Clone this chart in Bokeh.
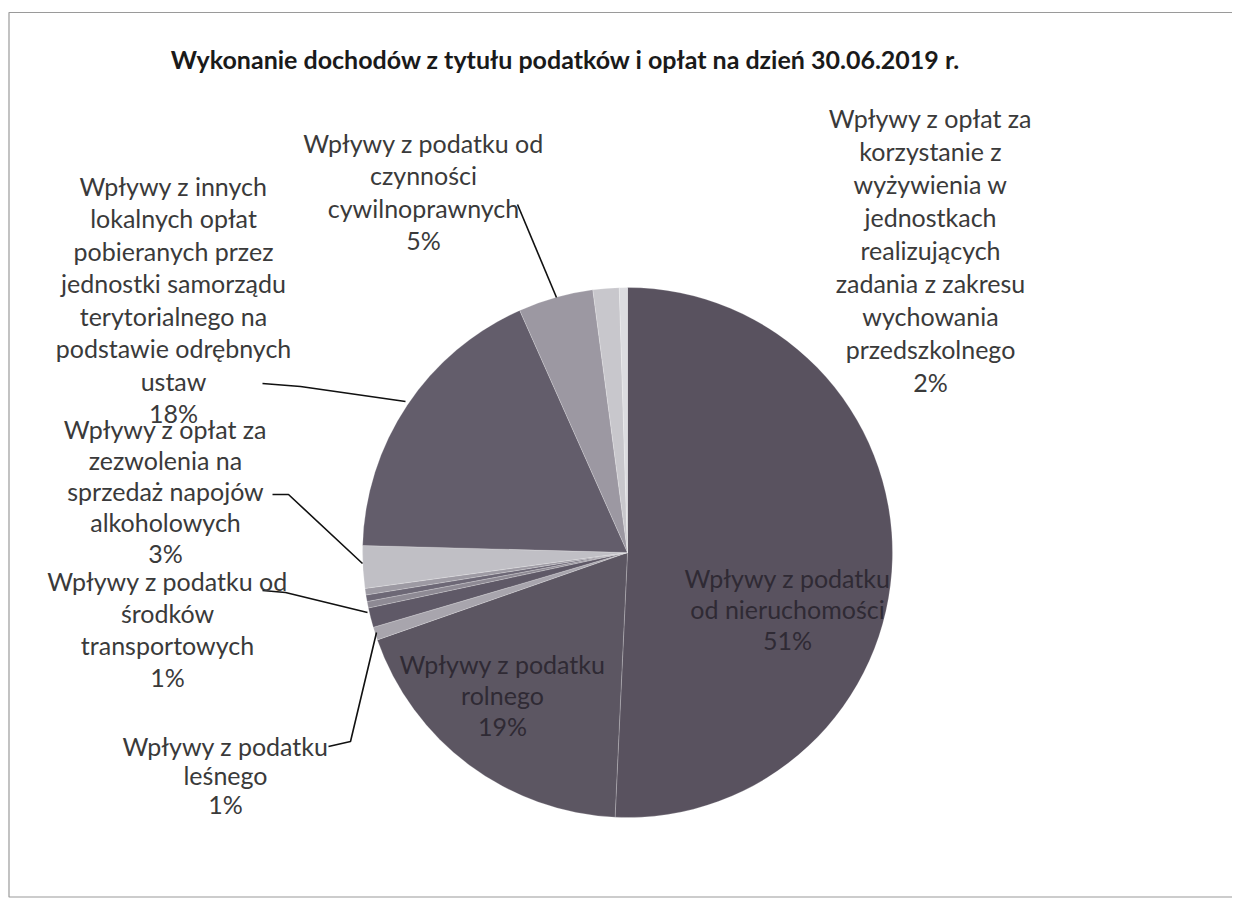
import math
from bokeh.plotting import figure
from bokeh.models import Range1d
from bokeh.embed import file_html
from bokeh.resources import INLINE
from bokeh.core.properties import value

# ---------------- data ----------------
title = "Wykonanie dochodów z tytułu podatków i opłat na dzień 30.06.2019 r."
categories = [
    "Wpływy z podatku\nod nieruchomości",
    "Wpływy z podatku\nrolnego",
    "Wpływy z podatku\nleśnego",
    "Wpływy z podatku od\nśrodków\ntransportowych",
    "Inne (1)",
    "Inne (2)",
    "Inne (3)",
    "Wpływy z opłat za\nzezwolenia na\nsprzedaż napojów\nalkoholowych",
    "Wpływy z innych\nlokalnych opłat\npobieranych przez\njednostki samorządu\nterytorialnego na\npodstawie odrębnych\nustaw",
    "Wpływy z podatku od\nczynności\ncywilnoprawnych",
    "Wpływy z opłat za\nkorzystanie z\nwyżywienia w\njednostkach\nrealizujących\nzadania z zakresu\nwychowania\nprzedszkolnego",
    "Inne (4)",
]
values = [51.0, 19.0, 0.8, 1.2, 0.4, 0.4, 0.4, 2.6, 18.0, 4.6, 1.6, 0.5]
show_label = [True, True, True, True, False, False, False, True, True, True, True, False]

# ---------------- style / layout ----------------
colors = ["#59525f", "#5c5662", "#a8a5ad", "#5f5967", "#8e8a94", "#6d6876",
          "#9d9aa3", "#c0bfc5", "#635d6b", "#9c98a2", "#c8c7cc", "#dcdce0"]
W, H = 1232, 898


def px(x, y):  # screen pixel -> data coords
    return x, H - y


# label anchor (screen px: center x, first-line y), inside flag
label_pos = {
    0: (787, 577, True),
    1: (502, 663, True),
    2: (225, 745, False),
    3: (167, 580, False),
    7: (165, 428, False),
    8: (173, 185, False),
    9: (423, 142, False),
    10: (930, 117, False),
}
line_h = {0: 31, 1: 31, 2: 29, 3: 32, 7: 31, 8: 32.5, 9: 32.5, 10: 33}
leaders = {
    2: [(328, 746), (350, 741), (376, 632)],
    3: [(262, 590), (285, 592), (367, 612)],
    7: [(272, 494), (288, 494), (362, 563)],
    8: [(262, 383), (300, 386), (405, 401)],
    9: [(517, 204), (556, 297)],
}

FONT = "Lato"

p = figure(width=W, height=H, output_backend="svg", toolbar_location=None,
           x_range=Range1d(0, W), y_range=Range1d(0, H), min_border=0)
p.axis.visible = False
p.grid.visible = False
p.outline_line_color = None
p.background_fill_color = "white"
p.border_fill_color = "white"

# chart frame (top, left, bottom)
fx0, fy0 = px(8.5, 12)
fx1, fy1 = px(1240, 896.5)
p.line([fx1, fx0, fx0, fx1], [fy0, fy0, fy1, fy1], line_color="#9a9a9a", line_width=1.2)

# title
tx, ty = px(565, 58)
p.text([tx], [ty], text=[title], text_align="center", text_baseline="middle",
       text_font=value(FONT), text_font_style="bold", text_font_size="25px",
       text_color="#1a1a1a")

# pie
cx, cy = px(627, 552)
R = 265
total = sum(values)
starts, ends = [], []
acc = 0.0
for v in values:
    a0 = math.pi / 2 - acc / total * 2 * math.pi
    acc += v
    a1 = math.pi / 2 - acc / total * 2 * math.pi
    starts.append(a0)
    ends.append(a1)
p.wedge(x=[cx] * len(values), y=[cy] * len(values), radius=R,
        start_angle=starts, end_angle=ends, direction="clock",
        fill_color=colors, line_color="#ffffff", line_width=0.6, line_alpha=0.35)

# leaders
for i, pts in leaders.items():
    xs = [px(a, b)[0] for a, b in pts]
    ys = [px(a, b)[1] for a, b in pts]
    p.line(xs, ys, line_color="#111111", line_width=1.6)

# labels
for i, (lx, ly, inside) in label_pos.items():
    if not show_label[i]:
        continue
    pct = f"{round(values[i] / total * 100)}%"
    lines = categories[i].split("\n") + [pct]
    xs, ys = [], []
    for k, t in enumerate(lines):
        dx, dy = px(lx, ly + k * line_h[i])
        xs.append(dx)
        ys.append(dy)
    p.text(xs, ys, text=lines, text_align="center", text_baseline="middle",
           text_font=value(FONT), text_font_size="25px",
           text_color="#2f2a34" if inside else "#3a3a3a")

open("out.html", "w").write(file_html(p, INLINE))
